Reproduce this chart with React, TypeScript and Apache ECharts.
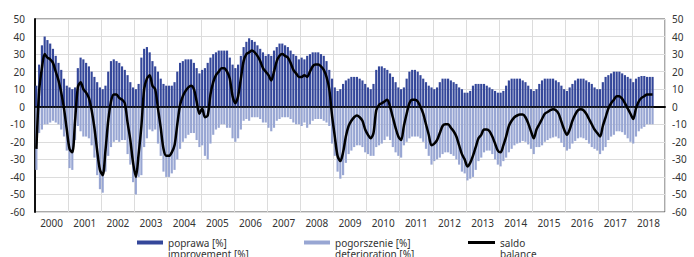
import React, { useEffect, useRef } from "react";
import * as echarts from "echarts";

const years = ["2000","2001","2002","2003","2004","2005","2006","2007","2008","2009","2010","2011","2012","2013","2014","2015","2016","2017","2018"];
const monthCodes = ["01","02","03","04","05","06","07","08","09","10","11","12"];

const improvement = [
  12, 24, 35, 40, 38, 36, 33, 29, 25, 21, 16, 12,
  11, 10, 11, 22, 28, 27, 25, 23, 20, 17, 14, 11,
  10, 12, 20, 26, 27, 26, 25, 23, 21, 18, 14, 11,
  10, 13, 28, 33, 34, 31, 26, 23, 20, 16, 13, 12,
  12, 12, 14, 20, 25, 26, 27, 27, 27, 25, 22, 19,
  21, 22, 25, 28, 30, 31, 32, 32, 32, 32, 28, 24,
  22, 24, 29, 34, 37, 39, 38, 37, 35, 33, 31, 29,
  30, 29, 32, 34, 36, 36, 35, 34, 32, 30, 29, 27,
  28, 27, 29, 30, 31, 31, 31, 30, 29, 26, 21, 16,
  11, 9, 10, 13, 15, 16, 17, 17, 17, 16, 15, 13,
  11, 10, 13, 21, 23, 23, 22, 21, 19, 17, 14, 11,
  10, 11, 16, 20, 21, 21, 20, 18, 16, 14, 12, 11,
  10, 11, 14, 16, 16, 16, 15, 14, 13, 11, 10, 8,
  8, 9, 12, 13, 13, 13, 13, 12, 11, 10, 9, 8,
  8, 9, 12, 15, 16, 16, 16, 16, 15, 14, 12, 10,
  9, 10, 13, 15, 16, 16, 16, 16, 15, 14, 12, 10,
  9, 11, 13, 15, 16, 16, 16, 15, 14, 13, 11, 10,
  10, 14, 17, 18, 19, 20, 20, 20, 19, 18, 17, 16,
  14, 16, 17, 17.5, 17.5, 17, 17, 17,
];

const deterioration = [
  -36, -15, -13, -10, -10, -9, -8, -9, -10, -13, -17, -25,
  -35, -36, -19, -11, -14, -17, -17, -18, -22, -29, -39, -47,
  -49, -37, -28, -23, -20, -19, -20, -19, -19, -27, -33, -43,
  -50, -40, -39, -23, -18, -13, -14, -13, -21, -28, -37, -40,
  -40, -38, -36, -30, -24, -20, -18, -16, -15, -15, -19, -23,
  -22, -28, -30, -21, -16, -13, -12, -10, -10, -12, -12, -18,
  -20, -18, -13, -8, -7, -8, -6, -6, -6, -7, -9, -9,
  -12, -14, -12, -8, -7, -6, -6, -6, -7, -9, -10, -10,
  -11, -9, -12, -10, -8, -7, -7, -7, -8, -9, -11, -21,
  -28, -37, -41, -39, -32, -27, -25, -23, -22, -22, -23, -26,
  -27, -28, -28, -23, -22, -21, -19, -17, -19, -23, -26, -28,
  -29, -22, -20, -18, -17, -17, -17, -18, -20, -24, -28, -33,
  -31, -30, -29, -27, -26, -26, -27, -28, -30, -33, -37, -38,
  -42, -41, -40, -36, -31, -29, -26, -25, -25, -27, -30, -33,
  -34, -31, -29, -26, -24, -22, -21, -20.5, -19.5, -20, -21.5, -24,
  -27, -23, -23, -22, -20, -19, -18, -17.5, -17, -18, -20.5, -23,
  -25, -24, -21, -19.5, -18, -17.5, -18, -19, -21, -23, -24, -25,
  -27, -25, -23, -19, -17, -16, -14, -14, -14.5, -16, -18, -20,
  -21, -17, -14, -12.5, -11.5, -10, -10, -10,
];

const balance = [
  -24, 9, 22, 30, 28, 27, 25, 20, 15, 8, -1, -13,
  -24, -26, -8, 11, 14, 10, 8, 5, -2, -12, -25, -36,
  -39, -25, -8, 3, 7, 7, 5, 4, 2, -9, -19, -32,
  -40, -27, -11, 10, 16, 18, 12, 10, -1, -12, -24, -28,
  -28, -26, -22, -10, 1, 6, 9, 11, 12, 10, 3, -4,
  -1, -6, -5, 7, 14, 18, 20, 22, 22, 20, 16, 6,
  2, 6, 16, 26, 30, 31, 32, 31, 29, 26, 22, 20,
  18, 15, 20, 26, 29, 30, 29, 28, 25, 21, 19, 17,
  17, 18, 17, 20, 23, 24, 24, 23, 21, 17, 10, -5,
  -17, -28, -31, -26, -17, -11, -8, -6, -5, -6, -8, -13,
  -16, -18, -15, -2, 1, 2, 3, 4, 0, -6, -12, -17,
  -19, -11, -4, 2, 4, 4, 3, 0, -4, -10, -16, -22,
  -21, -19, -15, -11, -10, -10, -12, -14, -17, -22, -27, -30,
  -34, -32, -28, -23, -18, -16, -13, -13, -14, -17, -21, -25,
  -26, -22, -17, -11, -8, -6, -5, -4.5, -4.5, -6, -9.5, -14,
  -18, -13, -10, -7, -4, -3, -2, -1.5, -2, -4, -8.5, -13,
  -16, -13, -8, -4.5, -2, -1.5, -2, -4, -7, -10, -13, -15,
  -17, -11, -6, -1, 2, 4, 6, 6, 4.5, 2, -1, -4,
  -7, -1, 3, 5, 6, 7, 7, 7,
];

const months = years.flatMap((y) => monthCodes.map((m) => `${y}-${m}`));

const NAME_IMP = "poprawa [%]\nimprovement [%]";
const NAME_DET = "pogorszenie [%]\ndeterioration [%]";
const NAME_BAL = "saldo\nbalance";

const FONT = "'Noto Sans', 'Open Sans', sans-serif";
const DARK = "#34479a";
const LIGHT = "#98a6d3";

export default function App() {
  const ref = useRef<HTMLDivElement>(null);
  useEffect(() => {
    if (!ref.current) return;
    const chart = echarts.init(ref.current, undefined, { renderer: "svg" });
    const legendText = {
      color: "#333",
      fontSize: 10,
      lineHeight: 11,
      fontFamily: FONT,
    };
    const mkLegend = (name: string, left: number, w: number, h: number) => ({
      data: [name],
      left,
      top: 226,
      padding: 0,
      itemWidth: w,
      itemHeight: h,
      icon: "rect",
      selectedMode: false,
      formatter: (n: string) => "\n" + n,
      textStyle: legendText,
    });
    const yLabel = { color: "#333", fontSize: 10, fontFamily: FONT };
    chart.setOption({
      animation: false,
      grid: {
        left: 35,
        right: 29,
        top: 19,
        bottom: 45,
        show: true,
        borderColor: "#555",
        borderWidth: 1,
        backgroundColor: "transparent",
      },
      legend: [
        mkLegend(NAME_IMP, 137, 26, 4),
        mkLegend(NAME_DET, 304, 26, 4),
        mkLegend(NAME_BAL, 468, 27, 3),
      ],
      xAxis: [
        {
          type: "category",
          data: months,
          boundaryGap: true,
          axisLine: { show: false },
          axisTick: { show: false },
          axisLabel: { show: false },
          splitLine: { show: false },
        },
        {
          type: "category",
          data: years,
          position: "bottom",
          boundaryGap: true,
          axisLine: { show: true, lineStyle: { color: "#111", width: 2 } },
          axisTick: { show: false },
          axisLabel: { ...yLabel, margin: 6, interval: 0 },
          splitLine: {
            show: true,
            interval: 0,
            lineStyle: { color: "#dcdcdc", width: 1 },
          },
        },
      ],
      yAxis: [
        {
          type: "value",
          min: -60,
          max: 50,
          interval: 10,
          axisLine: { show: true, lineStyle: { color: "#111", width: 2 } },
          axisTick: { show: false },
          axisLabel: { ...yLabel, margin: 10 },
          splitLine: { show: true, lineStyle: { color: "#dcdcdc", width: 1 } },
        },
        {
          type: "value",
          min: -60,
          max: 50,
          interval: 10,
          position: "right",
          axisLine: { show: false },
          axisTick: { show: false },
          axisLabel: { ...yLabel, margin: 7 },
          splitLine: { show: false },
        },
      ],
      series: [
        {
          name: NAME_IMP,
          type: "bar",
          data: improvement,
          itemStyle: { color: DARK },
          barGap: "-100%",
          barCategoryGap: "22%",
        },
        {
          name: NAME_DET,
          type: "bar",
          data: deterioration,
          itemStyle: { color: LIGHT },
          barGap: "-100%",
          barCategoryGap: "22%",
        },
        {
          name: NAME_BAL,
          type: "line",
          data: balance,
          symbol: "none",
          smooth: 0.3,
          itemStyle: { color: "#000" },
          lineStyle: { color: "#000", width: 2.5 },
          z: 5,
          markLine: {
            silent: true,
            symbol: "none",
            label: { show: false },
            lineStyle: { color: "#000", width: 1.5, type: "solid" },
            data: [{ yAxis: 0 }],
          },
        },
      ],
    });
    return () => chart.dispose();
  }, []);
  return (
    <div
      ref={ref}
      style={{ position: "absolute", left: 0, top: 0, width: 694, height: 257 }}
    />
  );
}
